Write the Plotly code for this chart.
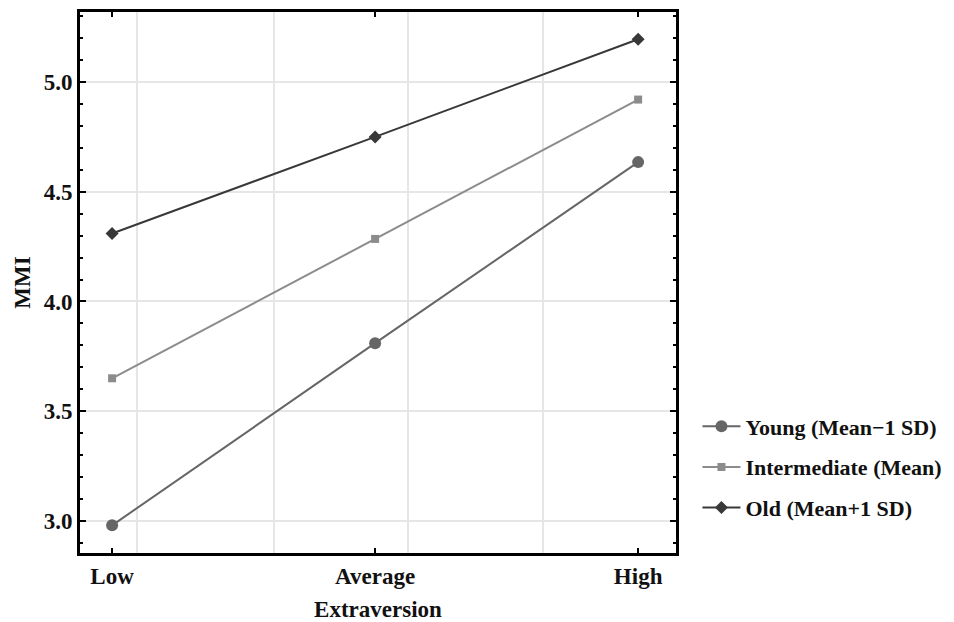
import plotly.graph_objects as go

categories = ["Low", "Average", "High"]
young = [2.98, 3.81, 4.635]
intermediate = [3.65, 4.285, 4.92]
old = [4.31, 4.75, 5.195]
series_names = ["Young (Mean\u22121 SD)", "Intermediate (Mean)", "Old (Mean+1 SD)"]
y_ticks = [3.0, 3.5, 4.0, 4.5, 5.0]
y_ticklabels = ["3.0", "3.5", "4.0", "4.5", "5.0"]

xpos = list(range(len(categories)))
FONT = "Liberation Serif"
TXT = "#111111"

fig = go.Figure()
styles = [
    dict(color="#666666", symbol="circle", size=12),
    dict(color="#8c8c8c", symbol="square", size=8),
    dict(color="#383838", symbol="diamond", size=10),
]
for i, (name, vals, st) in enumerate(zip(series_names, [young, intermediate, old], styles)):
    fig.add_trace(go.Scatter(
        x=xpos, y=vals, name=name, mode="lines+markers", legendgroup=f"g{i}",
        line=dict(color=st["color"], width=2),
        marker=dict(color=st["color"], symbol=st["symbol"], size=st["size"]),
    ))

fig.update_layout(
    width=946, height=614,
    margin=dict(l=72, r=278, t=4, b=69, autoexpand=False),
    paper_bgcolor="white", plot_bgcolor="white",
    font=dict(family=FONT, size=23, color=TXT, weight="bold"),
    legend=dict(x=1.036, xanchor="left", y=0.159, yanchor="middle",
                font=dict(family=FONT, size=22, color=TXT, weight="bold"),
                itemwidth=38, traceorder="grouped", tracegroupgap=9),
    xaxis=dict(
        range=[-0.122, 2.144], automargin=False,
        tickvals=xpos, ticktext=categories,
        showgrid=False, zeroline=False,
        showline=True, linecolor="black", linewidth=3, mirror="ticks",
        ticks="inside", ticklen=5, tickwidth=2, tickcolor="black",
        tickfont=dict(family=FONT, size=23, color=TXT, weight="bold"),
        title=dict(text="Extraversion", standoff=18,
                   font=dict(family=FONT, size=23, color=TXT, weight="bold")),
        minor=dict(tickvals=[0.095, 0.616, 1.125, 1.639], showgrid=True,
                   gridcolor="#e6e6e6", gridwidth=1.5, ticklen=0),
    ),
    yaxis=dict(
        range=[2.854, 5.319], automargin=False,
        tickvals=y_ticks, ticktext=y_ticklabels,
        showgrid=True, gridcolor="#e6e6e6", gridwidth=1.5, zeroline=False,
        showline=True, linecolor="black", linewidth=3, mirror="ticks",
        ticks="inside", ticklen=6, tickwidth=2, tickcolor="black",
        tickfont=dict(family=FONT, size=23, color=TXT, weight="bold"),
        title=dict(text="MMI", standoff=7,
                   font=dict(family=FONT, size=23, color=TXT, weight="bold")),
        minor=dict(dtick=0.1, ticks="inside", ticklen=3, tickwidth=1.5,
                   tickcolor="black", showgrid=False),
    ),
)

fig.write_html("out.html")
